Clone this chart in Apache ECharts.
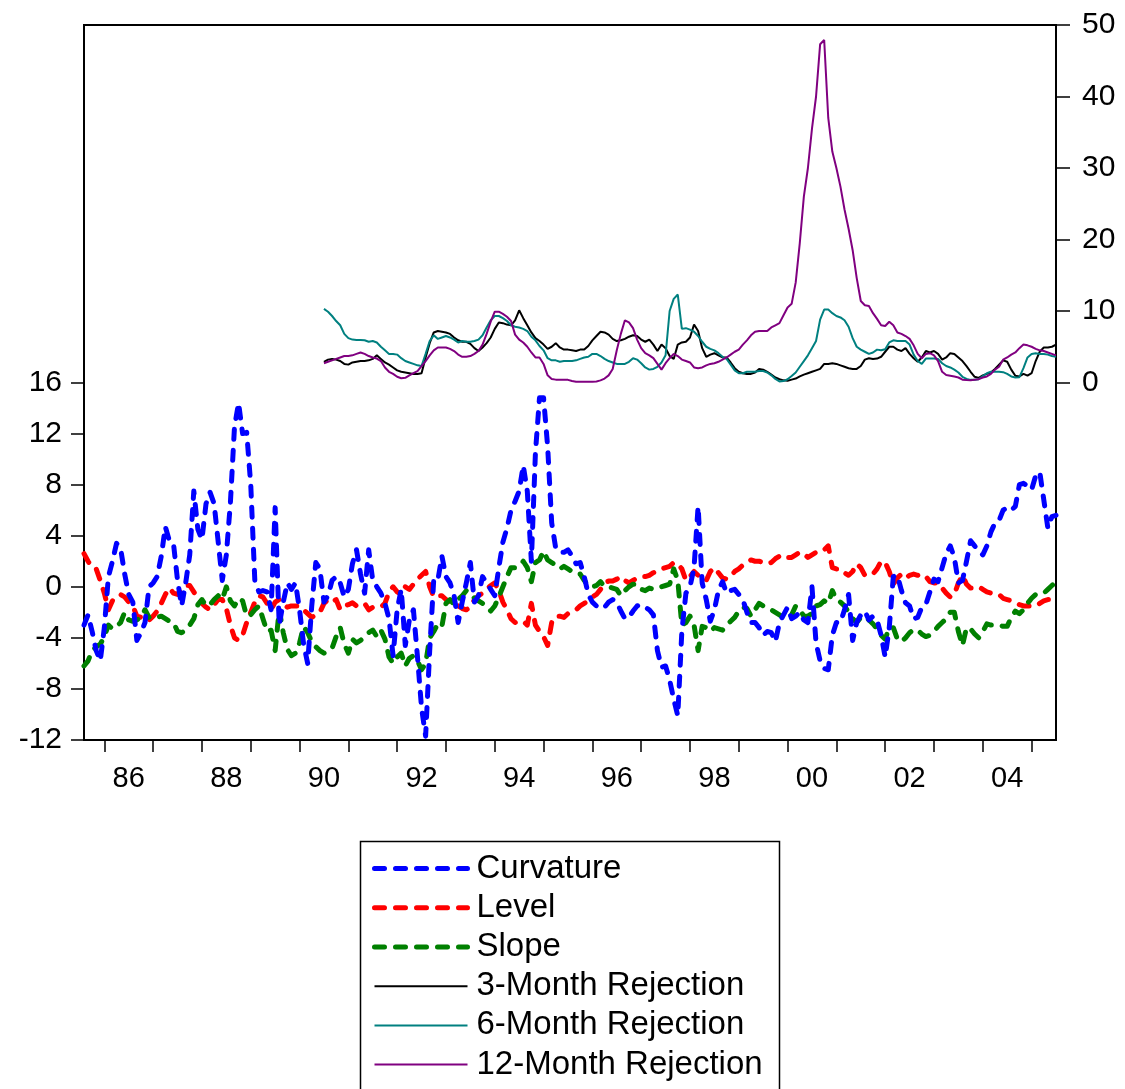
<!DOCTYPE html>
<html>
<head>
<meta charset="utf-8">
<script src="https://cdn.jsdelivr.net/npm/echarts@6/dist/echarts.min.js"></script>
<style>
html, body { margin: 0; padding: 0; background: #ffffff; }
#chart { width: 1125px; height: 1089px; }
</style>
</head>
<body>
<div id="chart"></div>
<script>
// Monthly sample 1985M08 - 2005M07
const firstYear = 1985, firstMonth = 8, obsCount = 240;
const months = [];
for (let i = 0; i < obsCount; i++) {
  const k = firstMonth - 1 + i;
  const y = firstYear + Math.floor(k / 12);
  const m = (k % 12) + 1;
  months.push(y + 'M' + String(m).padStart(2, '0'));
}

// Yield-curve factors (left axis)
const curvature = [
  -3.0,-2.2,-3.5,-5.0,-5.8,-3.2,0.8,2.0,3.4,3.0,
  1.0,-0.6,-1.2,-4.2,-3.6,-2.8,0.0,0.3,0.8,2.4,
  4.7,3.6,3.4,0.5,-1.5,0.3,2.5,7.5,4.5,3.7,
  6.5,7.4,6.5,3.5,0.5,2.5,6.6,12.5,14.4,12.0,
  12.1,8.0,0.5,-0.4,-0.3,-0.4,-1.8,6.2,-3.0,-1.2,
  0.3,-0.2,0.3,-1.8,-4.5,-6.0,-1.5,1.9,1.4,-1.2,
  -0.7,0.5,0.8,0.3,-0.8,-0.2,1.8,2.9,1.0,-0.5,
  2.9,0.5,0.0,-0.5,-1.3,-2.5,-5.4,-1.8,-0.2,-4.6,
  -2.6,-1.8,-5.5,-9.5,-11.7,-5.0,0.6,0.5,2.4,0.8,
  0.3,-0.7,-2.8,-1.2,0.3,1.9,-1.2,-0.7,0.8,0.3,
  -0.2,-0.7,1.5,3.5,4.6,6.0,6.7,7.5,9.5,7.5,
  2.0,10.5,14.8,14.8,11.0,5.0,3.0,2.7,2.7,2.9,
  2.4,1.8,1.9,0.8,-0.6,-1.2,-1.5,-1.7,-1.6,-1.2,
  -1.0,-1.2,-1.9,-2.5,-2.4,-1.9,-1.5,-1.4,-1.6,-1.8,
  -2.2,-5.0,-6.3,-6.2,-7.3,-8.8,-10.1,-3.5,-0.5,0.0,
  1.5,6.3,0.3,-1.0,-2.7,-1.8,-0.3,0.4,-0.5,-0.3,
  -0.2,-0.6,-1.0,-2.0,-2.8,-2.8,-3.2,-3.8,-3.5,-3.6,
  -4.3,-2.8,-2.2,-1.6,-2.5,-2.3,-2.0,-2.6,-2.8,0.0,
  -4.4,-5.8,-6.4,-6.5,-3.8,-2.8,-2.8,-1.8,-0.6,-4.2,
  -2.8,-2.2,-1.9,-2.6,-2.3,-2.6,-3.8,-5.5,-3.2,0.8,
  0.9,-0.3,-1.25,-1.5,-2.5,-2.4,-1.6,-1.4,-0.4,0.6,
  0.4,1.5,2.6,3.2,2.3,0.3,0.5,2.0,3.6,3.2,
  2.8,2.5,3.2,4.3,5.0,5.2,6.0,6.2,6.0,6.3,
  8.0,8.1,7.9,7.6,8.7,9.0,6.8,4.6,5.5,5.6
];
const level = [
  2.6,2.0,1.5,1.4,0.5,-0.5,-1.8,-1.1,-0.9,-0.6,
  -0.8,-1.2,-1.5,-2.3,-2.4,-2.7,-2.6,-2.3,-1.9,-1.3,
  -0.6,-0.1,-0.5,-0.6,-0.2,0.1,0.1,-0.4,-0.9,-1.3,
  -1.6,-1.8,-1.4,-1.0,-1.0,-1.7,-3.0,-4.0,-4.2,-3.8,
  -2.8,-2.0,-1.2,-0.7,-0.8,-1.3,-1.8,-1.2,-1.0,-1.3,
  -1.6,-1.5,-1.5,-1.5,-1.8,-2.1,-2.4,-2.2,-2.0,-1.3,
  -1.0,-1.2,-1.0,-1.8,-1.5,-1.4,-1.25,-1.5,-1.4,-1.3,
  -1.8,-1.6,-1.6,-1.6,-1.3,-0.4,0.0,-0.4,-0.6,0.0,
  -0.2,0.2,0.6,0.9,1.2,0.0,-0.8,-0.7,-0.7,-1.0,
  -1.25,-1.3,-1.5,-1.7,-1.8,-1.6,-1.0,-0.7,-0.5,-0.2,
  0.1,0.3,-0.3,-1.2,-1.8,-2.5,-2.8,-2.7,-2.7,-3.0,
  -1.3,-3.0,-3.5,-3.9,-4.6,-2.8,-2.3,-2.3,-2.4,-2.1,
  -1.9,-1.8,-1.5,-1.3,-1.1,-0.8,-0.6,-0.2,0.3,0.45,
  0.45,0.6,0.8,0.5,0.3,0.5,0.7,0.8,0.8,0.9,
  1.1,1.3,1.4,1.5,1.6,1.9,1.8,1.4,0.5,0.8,
  1.2,0.9,0.6,0.5,1.2,1.5,1.1,0.7,0.6,0.8,
  1.2,1.4,1.7,1.9,2.1,2.0,2.0,1.9,1.8,1.9,
  2.2,2.4,2.5,2.3,2.3,2.5,2.7,2.6,2.3,2.5,
  2.7,2.7,2.9,3.2,1.5,1.4,1.4,1.1,0.9,1.2,
  1.8,1.5,0.9,0.9,1.0,1.4,2.0,1.9,1.2,0.2,
  0.7,1.0,0.7,0.9,1.0,0.9,1.0,0.8,0.4,0.3,
  0.3,-0.1,-0.5,-0.8,-0.6,0.3,0.9,0.2,-0.1,-0.1,
  0.0,-0.2,-0.4,-0.5,-0.5,-0.6,-0.9,-1.0,-1.1,-1.25,
  -1.4,-1.5,-1.5,-1.5,-1.5,-1.3,-1.1,-1.0,-1.0,-1.0
];
const slope = [
  -6.2,-5.8,-5.0,-4.7,-4.5,-3.9,-3.0,-3.3,-3.1,-2.8,
  -2.0,-2.6,-2.7,-2.6,-2.4,-1.8,-2.4,-2.3,-2.4,-2.3,
  -2.5,-2.7,-2.8,-3.5,-3.6,-3.4,-3.0,-2.5,-1.4,-1.0,
  -1.5,-1.4,-1.0,-0.7,-1.0,0.0,-1.1,-1.5,-0.9,-1.1,
  -2.3,-2.2,-1.8,-1.5,-2.5,-3.5,-3.4,-5.0,-1.8,-3.6,
  -4.9,-5.4,-5.2,-4.4,-3.1,-3.6,-4.3,-4.7,-5.0,-5.2,
  -5.0,-4.8,-3.9,-3.2,-4.5,-5.2,-4.1,-4.4,-4.2,-3.9,
  -3.6,-3.4,-3.9,-3.4,-4.1,-5.5,-6.0,-5.5,-5.2,-6.2,
  -5.6,-5.4,-5.8,-6.5,-6.0,-4.0,-3.5,-2.9,-3.1,-1.3,
  -1.0,-1.4,-1.0,-0.7,-0.3,-0.5,-0.9,-1.1,-1.3,-1.5,
  -1.9,-1.5,-0.8,0.0,0.8,1.5,1.5,1.6,2.0,1.5,
  0.4,1.9,2.1,2.8,2.1,1.9,1.7,1.4,1.6,1.4,
  1.2,1.0,1.0,0.5,0.05,0.0,0.1,0.4,0.0,0.0,
  -0.1,-0.2,-0.7,-0.3,0.0,0.2,0.2,-0.2,-0.3,-0.1,
  -0.2,-0.1,0.0,0.1,0.2,1.4,0.5,-3.0,-2.8,-2.3,
  -3.0,-5.0,-3.1,-3.2,-3.5,-3.2,-3.3,-3.4,-3.0,-2.7,
  -2.4,-1.9,-1.6,-1.7,-2.3,-1.8,-1.3,-1.5,-1.7,-1.8,
  -2.0,-2.2,-2.4,-2.4,-2.2,-1.5,-1.8,-2.3,-2.3,-2.1,
  -1.5,-1.4,-1.1,-1.3,-0.3,-1.0,-1.2,-1.5,-2.0,-2.5,
  -2.8,-2.4,-2.3,-2.6,-2.9,-3.3,-3.8,-4.1,-3.2,-3.2,
  -4.1,-4.3,-4.0,-3.6,-3.35,-3.4,-3.7,-3.9,-3.8,-3.5,
  -3.1,-2.8,-2.5,-2.0,-2.0,-3.5,-4.6,-3.2,-3.3,-3.7,
  -4.0,-3.5,-2.9,-3.0,-3.0,-3.0,-3.1,-3.1,-2.4,-1.9,
  -2.1,-1.8,-1.3,-0.9,-0.6,-0.6,-0.5,-0.2,0.1,0.4
];

// Rejection frequencies (right axis), available from 1990M07
const rejectionStart = 59;
const rejection3m = [
  2.9,3.2,3.3,3.2,3.0,2.6,2.5,2.8,2.9,3.0,3.0,
  3.1,3.3,3.8,3.3,2.8,2.5,2.1,1.7,1.5,1.4,
  1.3,1.2,1.2,1.3,3.5,5.5,7.0,7.2,7.1,7.0,
  6.8,6.3,5.9,5.7,5.7,5.4,4.8,4.4,4.9,5.5,
  6.3,7.5,8.4,8.3,8.1,8.0,8.7,10.1,9.0,8.0,
  7.0,6.2,5.8,5.3,4.7,5.0,5.5,4.9,4.6,4.6,
  4.5,4.4,4.6,4.6,5.1,5.9,6.5,7.1,7.0,6.7,
  6.1,5.8,5.9,6.1,6.4,6.6,6.5,6.0,5.7,6.0,
  5.3,4.4,5.3,4.8,3.7,3.3,5.3,5.6,5.7,6.3,
  8.1,7.2,4.8,3.6,3.9,4.1,3.8,3.5,3.5,2.8,
  2.0,1.5,1.3,1.2,1.2,1.4,1.9,1.8,1.5,1.1,
  0.7,0.45,0.3,0.25,0.4,0.55,0.85,1.1,1.3,1.5,
  1.7,1.9,2.6,2.6,2.7,2.6,2.4,2.2,2.0,1.9,
  1.9,2.3,3.2,3.4,3.3,3.35,3.6,4.3,5.0,5.0,
  4.6,4.4,4.8,4.0,3.4,2.9,3.5,4.4,4.2,4.4,
  4.0,3.2,3.5,4.1,4.0,3.5,3.0,2.3,1.5,0.8,
  0.65,1.0,1.2,1.4,1.9,2.5,3.1,2.9,1.8,0.95,
  0.85,1.2,0.95,1.3,3.0,4.3,4.9,4.9,5.0,5.3
];
const rejection6m = [
  10.3,9.9,9.3,8.6,8.0,6.8,6.2,6.0,5.95,5.95,5.9,
  5.7,5.8,5.6,5.0,4.5,4.0,4.0,3.9,3.4,3.0,
  2.8,2.6,2.4,2.3,4.0,5.8,6.6,6.1,6.3,6.5,
  6.3,6.0,5.6,5.8,5.7,5.7,5.8,6.0,6.6,7.7,
  8.7,9.3,9.3,9.0,8.6,8.0,7.8,7.7,7.5,7.2,
  6.4,5.9,5.1,4.5,3.4,3.1,3.1,2.9,3.0,3.0,
  3.0,3.1,3.3,3.5,3.6,4.0,4.0,3.7,3.3,3.0,
  2.8,2.6,2.6,2.6,2.9,3.4,3.2,2.7,2.1,1.8,
  1.9,2.2,2.8,3.8,10.0,11.7,12.3,7.5,7.6,7.4,
  7.1,6.5,5.7,5.0,4.7,4.5,4.1,3.6,3.3,2.5,
  1.7,1.3,1.3,1.5,1.5,1.5,1.6,1.6,1.4,1.0,
  0.5,0.15,0.2,0.45,0.9,1.4,2.2,3.0,3.8,4.8,
  5.8,8.8,10.2,10.2,9.7,9.3,9.1,8.7,7.8,6.2,
  5.0,4.6,4.3,4.0,4.2,4.6,4.5,4.65,5.6,5.9,
  5.8,5.8,5.8,5.3,3.9,3.0,2.6,3.35,3.35,3.35,
  3.3,2.7,2.3,2.1,1.8,1.4,0.8,0.5,0.37,0.37,
  0.45,0.9,1.3,1.5,1.5,1.5,1.45,1.2,0.85,0.7,
  0.75,2.0,3.5,4.0,4.1,4.0,4.0,3.9,3.7,3.6
];
const rejection12m = [
  2.7,2.9,3.1,3.3,3.5,3.7,3.7,3.8,4.0,4.2,4.0,
  3.7,3.5,3.35,3.0,2.1,1.5,1.2,0.8,0.6,0.65,
  1.0,1.3,1.6,2.3,3.0,3.8,4.5,4.9,4.9,4.9,
  4.7,4.4,3.9,3.6,3.6,3.7,4.0,4.4,5.3,6.8,
  8.5,9.9,9.9,9.6,9.2,8.6,6.7,6.0,5.6,5.0,
  4.2,3.5,3.5,2.6,1.0,0.5,0.4,0.37,0.37,0.37,
  0.2,0.1,0.1,0.1,0.1,0.1,0.15,0.3,0.55,1.0,
  1.9,4.5,6.8,8.7,8.4,7.6,6.0,4.8,4.1,3.8,
  3.4,2.6,1.8,2.7,3.4,4.0,3.7,3.2,3.0,2.8,
  2.1,2.0,2.1,2.4,2.6,2.7,2.9,3.2,3.5,3.9,
  4.3,4.6,5.3,5.9,6.6,7.1,7.2,7.2,7.2,7.7,
  8.0,8.3,9.4,10.5,11.0,14.0,19.5,26.0,30.0,35.5,
  40.0,47.3,47.9,37.0,32.3,30.0,27.4,24.2,21.5,18.5,
  14.6,11.4,10.8,10.7,9.7,8.9,8.0,7.9,8.5,8.0,
  7.0,6.8,6.5,6.1,5.2,4.0,3.4,4.0,4.1,3.8,
  3.0,1.5,1.05,0.95,0.85,0.7,0.4,0.35,0.33,0.4,
  0.47,0.7,0.85,1.2,1.8,2.2,3.2,3.5,3.9,4.2,
  4.8,5.3,5.2,5.0,4.7,4.5,4.4,4.2,4.0,3.8
];

// Axis tick values
const leftTicks = [-12, -8, -4, 0, 4, 8, 12, 16];
const rightTicks = [0, 10, 20, 30, 40, 50];

const lateStart = arr => new Array(rejectionStart).fill(null).concat(arr);

const FONT = "'Liberation Sans', Arial, sans-serif";
const dashed = color => ({ color: color, width: 5, type: [10, 11], cap: 'round', join: 'round' });
const solid = color => ({ color: color, width: 2 });

const chart = echarts.init(document.getElementById('chart'), null, { renderer: 'canvas' });

chart.setOption({
  animation: false,
  backgroundColor: '#ffffff',
  textStyle: { fontFamily: FONT, color: '#000' },
  grid: {
    left: 84, right: 69, top: 25, bottom: 349,
    show: true, borderColor: '#000', borderWidth: 2, backgroundColor: 'transparent'
  },
  xAxis: {
    type: 'category',
    data: months,
    boundaryGap: false,
    axisLine: { show: true, onZero: false, lineStyle: { color: '#000', width: 2 } },
    axisTick: {
      show: true, length: 12,
      interval: (i, v) => v.endsWith('M01'),
      lineStyle: { color: '#000', width: 1.5 }
    },
    axisLabel: {
      interval: (i, v) => v.endsWith('M07') && (+v.slice(0, 4)) % 2 === 0,
      formatter: v => v.slice(2, 4),
      fontSize: 29, color: '#000', fontFamily: FONT, margin: 24
    },
    splitLine: { show: false }
  },
  yAxis: [
    {
      type: 'value', position: 'left', min: -12, max: 44,
      axisLine: { show: true, onZero: false, lineStyle: { color: '#000', width: 2 } },
      axisTick: { show: true, length: 13, customValues: leftTicks, lineStyle: { color: '#000', width: 1.5 } },
      axisLabel: { customValues: leftTicks, fontSize: 30, color: '#000', fontFamily: FONT, margin: 22 },
      splitLine: { show: false }
    },
    {
      type: 'value', position: 'right', min: -50, max: 50,
      axisLine: { show: true, onZero: false, lineStyle: { color: '#000', width: 2 } },
      axisTick: { show: true, length: 14, customValues: rightTicks, lineStyle: { color: '#000', width: 1.5 } },
      axisLabel: { customValues: rightTicks, fontSize: 30, color: '#000', fontFamily: FONT, margin: 26 },
      splitLine: { show: false }
    }
  ],
  legend: {
    orient: 'vertical',
    left: 372, top: 849,
    padding: 0,
    itemGap: 0,
    itemWidth: 93, itemHeight: 14,
    selectedMode: false,
    itemStyle: { opacity: 0 },
    lineStyle: { width: 'inherit', type: 'inherit', cap: 'inherit' },
    textStyle: { fontSize: 33, color: '#000', fontFamily: FONT, lineHeight: 39.2, padding: [0, 0, 0, 4] },
    data: ['Curvature', 'Level', 'Slope', '3-Month Rejection', '6-Month Rejection', '12-Month Rejection']
  },
  graphic: [{
    type: 'rect',
    shape: { x: 360.5, y: 841.5, width: 419, height: 260 },
    style: { fill: 'none', stroke: '#000', lineWidth: 1.5 },
    silent: true
  }],
  series: [
    { name: 'Curvature', type: 'line', yAxisIndex: 0, data: curvature, symbol: 'none', lineStyle: dashed('#0000ff'), itemStyle: { color: '#0000ff' }, z: 3 },
    { name: 'Level', type: 'line', yAxisIndex: 0, data: level, symbol: 'none', lineStyle: dashed('#ff0000'), itemStyle: { color: '#ff0000' }, z: 2 },
    { name: 'Slope', type: 'line', yAxisIndex: 0, data: slope, symbol: 'none', lineStyle: dashed('#008000'), itemStyle: { color: '#008000' }, z: 2 },
    { name: '3-Month Rejection', type: 'line', yAxisIndex: 1, data: lateStart(rejection3m), symbol: 'none', lineStyle: solid('#000000'), itemStyle: { color: '#000000' }, z: 4 },
    { name: '6-Month Rejection', type: 'line', yAxisIndex: 1, data: lateStart(rejection6m), symbol: 'none', lineStyle: solid('#008080'), itemStyle: { color: '#008080' }, z: 4 },
    { name: '12-Month Rejection', type: 'line', yAxisIndex: 1, data: lateStart(rejection12m), symbol: 'none', lineStyle: solid('#800080'), itemStyle: { color: '#800080' }, z: 4 }
  ]
});
</script>
</body>
</html>
